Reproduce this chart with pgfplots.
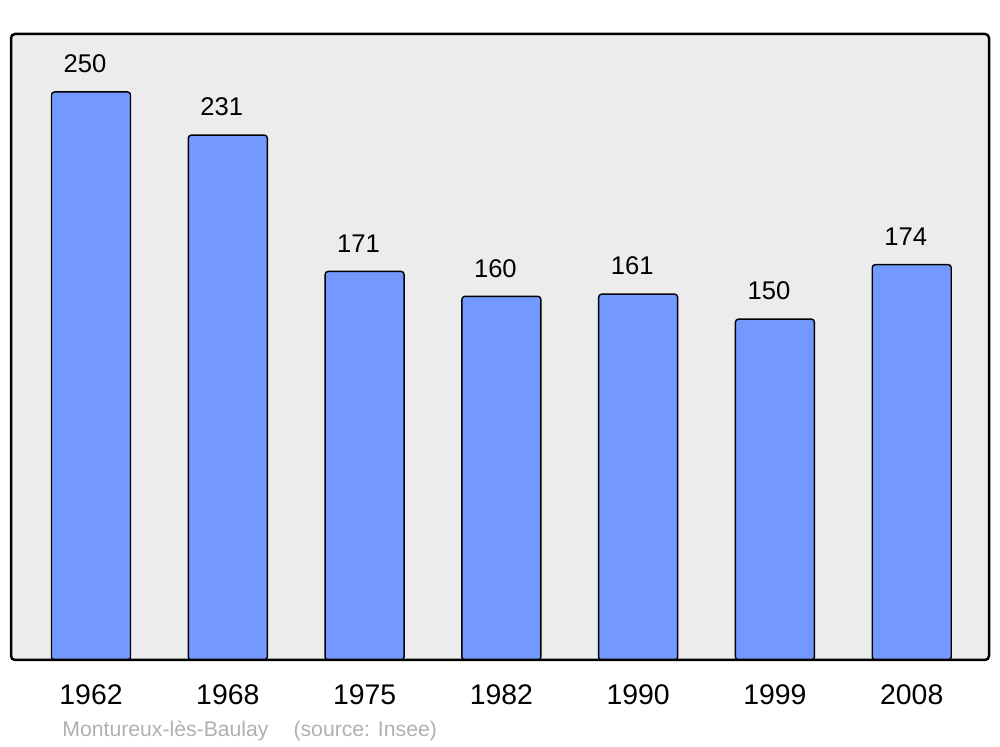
\documentclass[border=0pt]{standalone}
\usepackage{pgfplots}
\pgfplotsset{compat=1.18}
\usepackage{fontspec}
\setmainfont{Liberation Sans}
\definecolor{barblue}{RGB}{115,153,255}
\definecolor{bggray}{RGB}{236,236,236}
\definecolor{srcgray}{RGB}{176,176,176}
\begin{document}
\begin{tikzpicture}
\path[use as bounding box] (0,0) rectangle (500pt,373.5pt);
\begin{axis}[
  at={(5.5pt,43.5pt)}, anchor=south west,
  scale only axis, width=489pt, height=313pt,
  xmin=-0.585, xmax=6.565, ymin=0, ymax=275.5,
  axis line style={draw=none},
  axis background/.style={fill=bggray, rounded corners=2pt},
  ytick=\empty,
  xtick={0,1,2,3,4,5,6},
  xticklabels={1962,1968,1975,1982,1990,1999,2008},
  major tick length=0pt,
  xticklabel style={anchor=center, yshift=-17.5pt, font=\fontsize{14.2pt}{17pt}\selectfont},
  /pgf/number format/assume math mode=true,
  ybar, bar width=39.5pt,
  nodes near coords,
  nodes near coords style={anchor=center, yshift=14pt, xshift=-3pt, font=\fontsize{12.8pt}{15pt}\selectfont, text=black},
  clip=false,
]
\addplot[fill=barblue, draw=black, line width=0.7pt, rounded corners=1.5pt] coordinates {(0,250) (1,231) (2,171) (3,160) (4,161) (5,150) (6,174)};
\draw[line width=1.25pt, rounded corners=2pt] (rel axis cs:0,0) rectangle (rel axis cs:1,1);
\end{axis}
\node[anchor=west, text=srcgray, font=\fontsize{10.6pt}{13pt}\selectfont, inner sep=0pt] at (31pt,8pt) {Montureux-lès-Baulay\hspace{12.5pt}(source: Insee)};
\end{tikzpicture}
\end{document}
